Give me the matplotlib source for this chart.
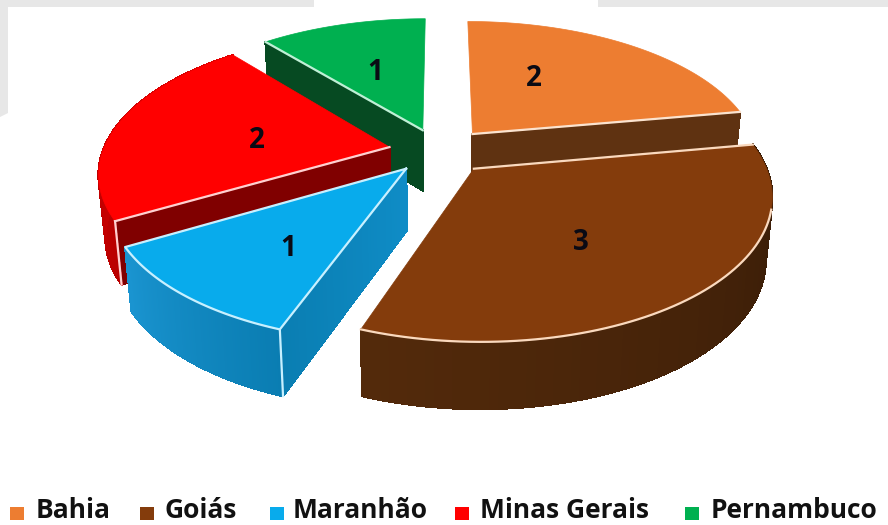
import numpy as np
import matplotlib
matplotlib.use("Agg")
import matplotlib.pyplot as plt
from matplotlib.patches import Polygon, Rectangle
from matplotlib.collections import PolyCollection
from matplotlib.colors import to_rgb

categories = ["Bahia", "Goiás", "Maranhão", "Minas Gerais", "Pernambuco"]
values = [2, 3, 1, 2, 1]

top_colors = ["#ED7D31", "#843C0C", "#08ABEC", "#FF0000", "#00B050"]
edge_colors = ["#FBE3CF", "#FAD9BE", "#C8F0FF", "#FFD0D0", "#BFF0D6"]
radial_wall = [("#5F3211", "#5F3211"), None, ("#0A7EB2", "#0F8CC6"), ("#800000", "#800000"), ("#064A22", "#064A22")]
rim_wall = [None, ("#361B07", "#532A0B"), ("#0A7DB2", "#1A94D0"), ("#B80000", "#E00000"), None]
label_xy = [(534, 79), (581, 243), (288, 248), (257, 141), (375, 72)]
legend_square_x = [10, 140, 270, 455, 685]
legend_text_x = [36, 164, 293, 480, 711]

W, H = 888, 525
CX, CY, A, B, K, EXPL_U, EXPL_V, T = 440.0, 151.0, 286.5, 137.0, 0.17, 0.18, 0.165, 61.0

fig = plt.figure(figsize=(W / 100, H / 100), dpi=100)
ax = fig.add_axes([0, 0, 1, 1])
ax.set_xlim(0, W)
ax.set_ylim(H, 0)
ax.axis("off")


def project(u, v):
    s = 1.0 / (1.0 + K * v)
    return CX + A * u * s, CY - B * v * s, s


def lower(x, y, s):
    return CX + (x - CX) * 0.98, y + T * s ** 0.45


def unit(deg):
    r = np.radians(deg)
    return np.sin(r), np.cos(r)


def mix(c1, c2, n):
    a, b = np.array(to_rgb(c1)), np.array(to_rgb(c2))
    return [tuple(a + (b - a) * t) for t in np.linspace(0, 1, n)]


def wall(pu, pv, colors, z):
    x, y, s = project(np.asarray(pu), np.asarray(pv))
    xb, yb = lower(x, y, s)
    n = len(x) - 1
    polys = [[(x[i], y[i]), (x[i + 1], y[i + 1]), (xb[i + 1], yb[i + 1]), (xb[i], yb[i])] for i in range(n)]
    cols = mix(colors[0], colors[1], n)
    outline = np.r_[np.c_[x, y], np.c_[xb, yb][::-1]]
    ax.add_patch(Polygon(outline, fc=cols[n // 2], ec=cols[n // 2], lw=0.6, zorder=z))
    ax.add_collection(PolyCollection(polys, facecolors=cols, edgecolors=cols, linewidths=1.0,
                                     antialiaseds=False, zorder=z))


# Grey remnants of the page behind the chart
ax.add_patch(Polygon([(0, 0), (314, 0), (314, 7), (8, 7), (8, 113), (0, 117)], fc="#E7E7E7", ec="none", zorder=0))
ax.add_patch(Rectangle((598, 0), 290, 7, fc="#E7E7E7", ec="none", zorder=0))

edges = 360.0 * np.concatenate([[0], np.cumsum(values)]) / np.sum(values)
order = [4, 0, 3, 2, 1]  # back to front

for rank, i in enumerate(order):
    a0, a1 = edges[i], edges[i + 1]
    mid = (a0 + a1) / 2
    du, dv = unit(mid)
    ox, oy = EXPL_U * du, EXPL_V * dv
    th = np.linspace(a0, a1, 80)
    ru = ox + np.sin(np.radians(th))
    rv = oy + np.cos(np.radians(th))
    z = 2 + rank * 3

    if radial_wall[i] is not None:
        ang = a1 if i == 0 else a0
        eu, ev = unit(ang)
        t = np.linspace(0, 1, 40)
        wall(ox + eu * t[::-1], oy + ev * t[::-1], radial_wall[i], z)
    if rim_wall[i] is not None:
        wall(ru, rv, rim_wall[i], z)

    px, py, _ = project(np.r_[ox, ru], np.r_[oy, rv])
    ax.add_patch(Polygon(np.c_[px, py], fc=top_colors[i], ec=top_colors[i], lw=0.5, zorder=z + 1))

    ec = edge_colors[i]
    ax0, ay0, as0 = project(ox, oy)
    start = project(ru[0], rv[0])
    end = project(ru[-1], rv[-1])
    if i == 0:
        ax.plot([ax0, end[0]], [ay0, end[1]], color=ec, lw=1.6, zorder=z + 2)
    if i == 1:
        ax.plot(px[18:], py[18:], color=ec, lw=1.6, zorder=z + 2)
        ax.plot([ax0, start[0]], [ay0, start[1]], color=ec, lw=1.6, zorder=z + 2)
    if i == 2:
        ax.plot(np.r_[ax0, px[1:], ax0], np.r_[ay0, py[1:], ay0], color=ec, lw=1.6, zorder=z + 2)
        bx, by = lower(start[0], start[1], start[2])
        ax.plot([start[0], bx], [start[1], by], color=ec, lw=1.6, zorder=z + 2)
    if i == 3:
        ax.plot([ax0, start[0]], [ay0, start[1]], color=ec, lw=1.6, zorder=z + 2)
        bx, by = lower(start[0], start[1], start[2])
        ax.plot([start[0], bx], [start[1], by], color=ec, lw=1.6, zorder=z + 2)
    if i == 4:
        ax.plot([ax0, start[0]], [ay0, start[1]], color=ec, lw=1.6, zorder=z + 2)

for v, (lx, ly) in zip(values, label_xy):
    ax.text(lx, ly, str(v), ha="center", va="center", fontsize=20, fontweight="bold",
            family="Open Sans", color="#0A0A14", zorder=40)

for name, color, sx, tx in zip(categories, top_colors, legend_square_x, legend_text_x):
    ax.add_patch(Rectangle((sx, 507), 14, 13, fc=color, ec="none", zorder=40))
    ax.text(tx, 518.5, name, ha="left", va="baseline", fontsize=19, fontweight="bold",
            family="Open Sans", color="#111111", zorder=40)

fig.savefig("out.png", dpi=100, facecolor="white")
